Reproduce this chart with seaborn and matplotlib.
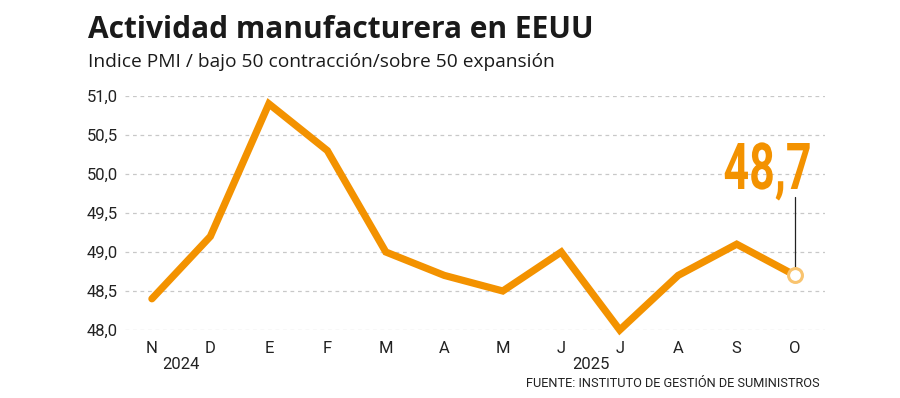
import matplotlib
matplotlib.use("Agg")
import matplotlib.pyplot as plt
import seaborn as sns
import pandas as pd
from matplotlib.textpath import TextPath
from matplotlib.patches import PathPatch
from matplotlib.font_manager import FontProperties
from matplotlib.transforms import Affine2D, IdentityTransform

months = ["N", "D", "E", "F", "M", "A", "M", "J", "J", "A", "S", "O"]
pmi = [48.4, 49.2, 50.9, 50.3, 49.0, 48.7, 48.5, 49.0, 48.0, 48.7, 49.1, 48.7]
years = ["2024", "2025"]
year_pos = [0.5, 7.5]
yticks = [48.0, 48.5, 49.0, 49.5, 50.0, 50.5, 51.0]
last_label = "48,7"

sns.set_theme(style="white")
plt.rcParams["font.family"] = ["Roboto", "DejaVu Sans"]

df = pd.DataFrame({"i": range(len(months)), "pmi": pmi})

fig = plt.figure(figsize=(9, 3.98), dpi=100)
ax = fig.add_axes([125/900, 1-330/398, 700/900, 234/398])

orange = "#F39200"
sns.lineplot(data=df, x="i", y="pmi", ax=ax, color=orange, linewidth=5.2,
             solid_capstyle="round", solid_joinstyle="miter", clip_on=False, zorder=3)
ax.plot([df["i"].iloc[-1]], [pmi[-1]], "o", ms=10, mfc="white", mec="#F9C46F", mew=2.2,
        zorder=4, clip_on=False)

ax.set_xlim(-0.46, 11.51)
ax.set_ylim(48.0, 51.0)
ax.set_yticks(yticks)
ax.set_yticklabels([f"{v:.1f}".replace(".", ",") for v in yticks], fontsize=12, color="#222222")
ax.set_xticks(range(len(months)))
ax.set_xticklabels(months, fontsize=12, color="#222222")
ax.tick_params(axis="both", length=0)
ax.tick_params(axis="y", pad=5)
ax.tick_params(axis="x", pad=8)
for s in ax.spines.values():
    s.set_visible(False)
ax.yaxis.grid(True, color="#C8C8C8", linestyle=(0, (3, 3)), linewidth=0.9)
ax.xaxis.grid(False)
ax.set_xlabel("")
ax.set_ylabel("")

for yp, yl in zip(year_pos, years):
    ax.text(yp, -0.115, yl, transform=ax.get_xaxis_transform(), ha="center", va="top",
            fontsize=12, color="#222222")

# annotation
xl = df["i"].iloc[-1]
ax.plot([xl, xl], [pmi[-1] + 0.09, pmi[-1] + 1.0], color="#222222", lw=0.9, zorder=2)

# condensed big label drawn as a scaled text path
fp = FontProperties(family=["Roboto", "DejaVu Sans"], weight="bold")
tp = TextPath((0, 0), last_label, size=100, prop=fp)
dig = TextPath((0, 0), "4", size=100, prop=fp).get_extents()
ext = tp.get_extents()
target_h, target_w = 46.0, 85.0
sy = target_h / dig.y1
sx = target_w / ext.width
cx, _ = ax.transData.transform((xl, pmi[-1]))
base_y = 398 - 189
tr = Affine2D().translate(-ext.x0 - ext.width / 2, 0).scale(sx, sy).translate(cx - 28, base_y)
patch = PathPatch(tr.transform_path(tp), facecolor=orange, edgecolor="none",
                  transform=IdentityTransform())
fig.add_artist(patch)

fig.text(88/900, 1-15/398, "Actividad manufacturera en EEUU", ha="left", va="top",
         fontsize=21.5, fontweight="bold", color="#1a1a1a", family=["Open Sans", "DejaVu Sans"])
fig.text(88/900, 1-53/398, "Indice PMI / bajo 50 contracción/sobre 50 expansión", ha="left", va="top",
         fontsize=13.8, color="#1a1a1a", family=["Open Sans", "DejaVu Sans"])
fig.text(820/900, 1-387/398, "FUENTE: INSTITUTO DE GESTIÓN DE SUMINISTROS", ha="right", va="baseline",
         fontsize=9.2, color="#222222", family=["Roboto", "DejaVu Sans"])

fig.savefig("out.png", dpi=100)
